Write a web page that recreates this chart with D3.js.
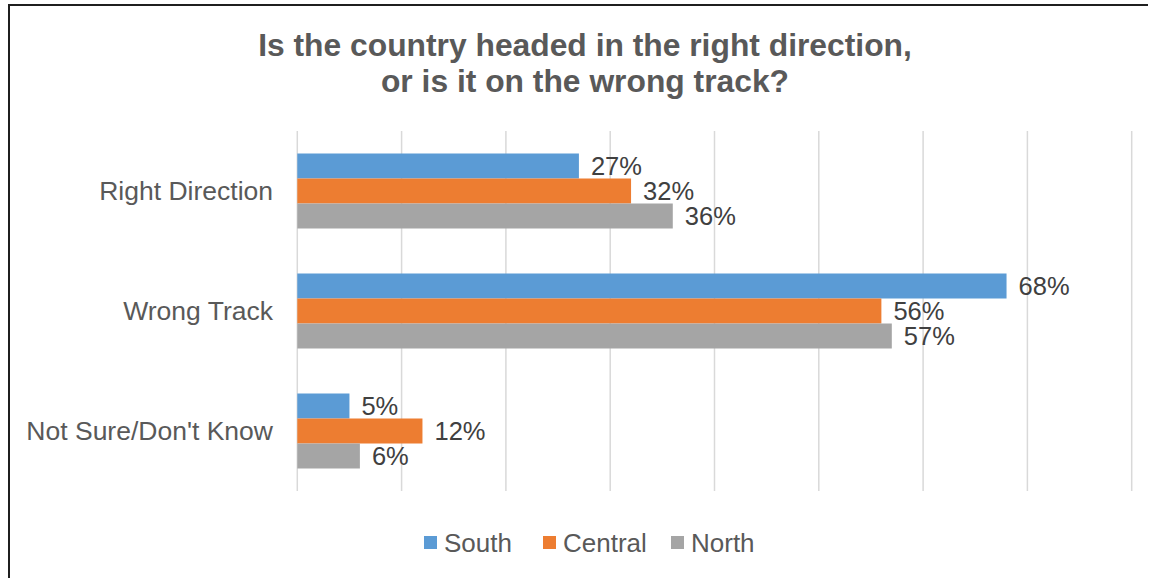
<!DOCTYPE html>
<html>
<head>
<meta charset="utf-8">
<script src="https://cdn.jsdelivr.net/npm/d3@7"></script>
<style>
  html, body { margin: 0; padding: 0; background: #fff; }
  svg { display: block; font-family: "Liberation Sans", Arial, sans-serif; }
</style>
</head>
<body>
<svg id="chart" width="1149" height="578"></svg>
<script>
// Survey responses by region (percent)
const categories = ["Right Direction", "Wrong Track", "Not Sure/Don't Know"];
const seriesNames = ["South", "Central", "North"];
const south = [27, 68, 5];
const central = [32, 56, 12];
const north = [36, 57, 6];
const gridTicks = [0, 10, 20, 30, 40, 50, 60, 70, 80];
const titleLines = ["Is the country headed in the right direction,", "or is it on the wrong track?"];

const colors = ["#5B9BD5", "#ED7D31", "#A5A5A5"];
const seriesValues = [south, central, north];

const svg = d3.select("#chart");
const W = 1149, H = 578;

// Frame around the chart
svg.append("path")
  .attr("d", `M9,${H} V5 H1148`)
  .attr("fill", "none")
  .attr("stroke", "#1f1f1f")
  .attr("stroke-width", 2);

// Title
svg.append("text")
  .attr("x", 585)
  .attr("y", 56)
  .attr("text-anchor", "middle")
  .attr("font-size", 31.8)
  .attr("font-weight", "bold")
  .attr("fill", "#595959")
  .selectAll("tspan")
  .data(titleLines)
  .join("tspan")
  .attr("x", 585)
  .attr("dy", (d, i) => i === 0 ? 0 : 36)
  .text(d => d);

const plot = { left: 297.3, right: 1131.7, top: 131, bottom: 491 };

const x = d3.scaleLinear().domain([0, 80]).range([plot.left, plot.right]);
const y = d3.scaleBand().domain(categories).range([plot.top, plot.bottom]).paddingInner(0.375).paddingOuter(0.1875);
const ySub = d3.scaleBand().domain(seriesNames).range([0, y.bandwidth()]);

// Vertical gridlines
svg.append("g")
  .selectAll("line")
  .data(gridTicks)
  .join("line")
  .attr("x1", d => x(d))
  .attr("x2", d => x(d))
  .attr("y1", plot.top)
  .attr("y2", plot.bottom)
  .attr("stroke", "#d9d9d9")
  .attr("stroke-width", 1.5);

// Category labels
svg.append("g")
  .selectAll("text")
  .data(categories)
  .join("text")
  .attr("x", 273)
  .attr("y", d => y(d) + y.bandwidth() / 2)
  .attr("dy", "0.35em")
  .attr("text-anchor", "end")
  .attr("font-size", 26.5)
  .attr("fill", "#595959")
  .text(d => d);

// Bars and value labels
const rows = [];
categories.forEach((c, ci) => {
  seriesNames.forEach((s, si) => {
    rows.push({ cat: c, series: s, value: seriesValues[si][ci], color: colors[si] });
  });
});

const barG = svg.append("g");
barG.selectAll("rect")
  .data(rows)
  .join("rect")
  .attr("x", x(0))
  .attr("y", d => y(d.cat) + ySub(d.series))
  .attr("width", d => x(d.value) - x(0))
  .attr("height", ySub.bandwidth())
  .attr("fill", d => d.color);

barG.selectAll("text")
  .data(rows)
  .join("text")
  .attr("x", d => x(d.value) + 12)
  .attr("y", d => y(d.cat) + ySub(d.series) + ySub.bandwidth() / 2)
  .attr("dy", "0.36em")
  .attr("font-size", 25.5)
  .attr("fill", "#404040")
  .text(d => d.value + "%");

// Legend
const legendX = [424, 543, 671];
const legend = svg.append("g")
  .selectAll("g")
  .data(seriesNames)
  .join("g")
  .attr("transform", (d, i) => `translate(${legendX[i]},536)`);
legend.append("rect")
  .attr("width", 13)
  .attr("height", 13)
  .attr("fill", (d, i) => colors[i]);
legend.append("text")
  .attr("x", 20)
  .attr("y", 6.5)
  .attr("dy", "0.36em")
  .attr("font-size", 26)
  .attr("fill", "#595959")
  .text(d => d);
</script>
</body>
</html>
